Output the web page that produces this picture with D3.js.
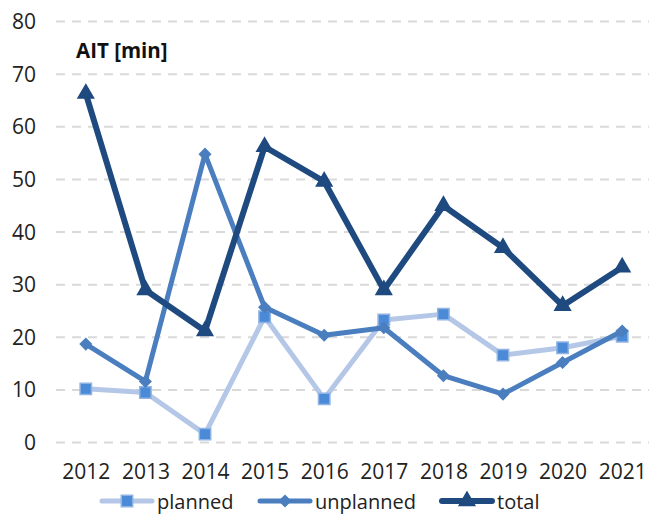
<!DOCTYPE html>
<html>
<head>
<meta charset="utf-8">
<script src="https://cdn.jsdelivr.net/npm/d3@7"></script>
<style>
  body { margin: 0; background: #fff; }
  svg { display: block; font-family: "Open Sans", sans-serif; }
</style>
</head>
<body>
<div id="chart"></div>
<script>
const years = ["2012","2013","2014","2015","2016","2017","2018","2019","2020","2021"];
const planned   = [10.1, 9.4, 1.5, 23.8, 8.2, 23.2, 24.3, 16.5, 17.9, 20.1];
const unplanned = [18.6, 11.5, 54.7, 25.6, 20.3, 21.7, 12.6, 9.1, 15.1, 21.1];
const total     = [66.2, 28.9, 21.1, 56.1, 49.5, 28.9, 44.9, 36.9, 25.9, 33.2];
const yTicks = [0, 10, 20, 30, 40, 50, 60, 70, 80];

const svgWidth = 649, svgHeight = 515;

const svg = d3.select("#chart").append("svg")
  .attr("width", svgWidth).attr("height", svgHeight);

// scales - plot area from 56 to right edge
const x = d3.scalePoint().domain(years).range([56, 652]).padding(0.5);
const y = d3.scaleLinear().domain([0, 80]).range([442, 21]);

// dashed gridlines
svg.append("g")
  .attr("transform", "translate(56,0)")
  .call(d3.axisLeft(y).tickValues(yTicks).tickSize(-600).tickFormat(""))
  .call(g => g.select(".domain").remove())
  .call(g => g.selectAll("line").attr("stroke", "#d9d9d9").attr("stroke-width", 2).attr("stroke-dasharray", "9,7"));

// y tick labels
svg.append("g")
  .attr("transform", "translate(36,0)")
  .call(d3.axisLeft(y).tickValues(yTicks).tickSize(0).tickPadding(0))
  .call(g => g.select(".domain").remove())
  .call(g => g.selectAll("text").attr("font-size", 21).attr("fill", "#222").attr("font-family", "Open Sans").attr("dy", "0.36em"));

// x tick labels
svg.append("g")
  .attr("transform", "translate(0,459)")
  .call(d3.axisBottom(x).tickSize(0).tickPadding(0))
  .call(g => g.select(".domain").remove())
  .call(g => g.selectAll("text").attr("font-size", 21).attr("fill", "#222").attr("font-family", "Open Sans").attr("dy", "0.93em"));

// title in plot
svg.append("text").attr("x", 76).attr("y", 58)
  .attr("font-size", 20.5).attr("font-weight", "bold").attr("fill", "#111")
  .text("AIT [min]");

const series = [
  { name: "planned",   values: planned,   line: "#b4c7e7", width: 5, fill: "#4a8ad6", stroke: "#8fb4e3",
    symbol: d3.symbol().type(d3.symbolSquare).size(130), rotate: 0 },
  { name: "unplanned", values: unplanned, line: "#4a7ebf", width: 5, fill: "#4a7ebf", stroke: "#4a7ebf",
    symbol: d3.symbol().type(d3.symbolSquare).size(60), rotate: 45 },
  { name: "total",     values: total,     line: "#1f4a80", width: 6, fill: "#1f4a80", stroke: "#1f4a80",
    symbol: d3.symbol().type(d3.symbolTriangle).size(105), rotate: 0 }
];

const line = d3.line().x((d, i) => x(years[i])).y(d => y(d));

series.forEach(s => {
  const g = svg.append("g");
  g.append("path").datum(s.values)
    .attr("fill", "none").attr("stroke", s.line).attr("stroke-width", s.width)
    .attr("stroke-linejoin", "round").attr("stroke-linecap", "round")
    .attr("d", line);
  g.selectAll("path.mk").data(s.values).join("path").attr("class", "mk")
    .attr("d", s.symbol)
    .attr("transform", (d, i) => "translate(" + x(years[i]) + "," + y(d) + ") rotate(" + s.rotate + ")")
    .attr("fill", s.fill).attr("stroke", s.stroke).attr("stroke-width", 1.5);
});

// legend
const legendX = [102, 260, 442];
const legend = svg.append("g");
series.forEach((s, i) => {
  const lg = legend.append("g").attr("transform", "translate(" + legendX[i] + ",501)");
  lg.append("line").attr("x1", 0).attr("x2", 50).attr("y1", 0).attr("y2", 0)
    .attr("stroke", s.line).attr("stroke-width", s.width).attr("stroke-linecap", "round");
  lg.append("path").attr("d", s.symbol)
    .attr("transform", "translate(25,0) rotate(" + s.rotate + ")")
    .attr("fill", s.fill).attr("stroke", s.stroke).attr("stroke-width", 1.5);
  lg.append("text").attr("x", 55).attr("y", 8)
    .attr("font-size", 20).attr("fill", "#222").text(s.name);
});
</script>
</body>
</html>
